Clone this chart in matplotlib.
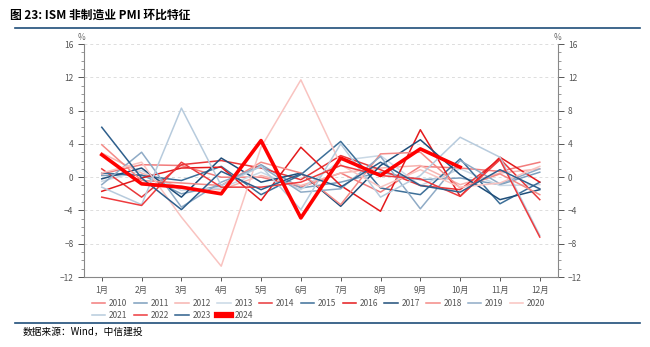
import matplotlib
matplotlib.use("Agg")
import matplotlib.pyplot as plt
import matplotlib.ticker as ticker
from matplotlib.lines import Line2D

plt.rcParams["font.family"] = ["Noto Sans CJK SC", "DejaVu Sans"]

MONTHS = ["1月", "2月", "3月", "4月", "5月", "6月", "7月", "8月", "9月", "10月", "11月", "12月"]

Y2010 = [0.4, 1.5, 1.4, 0.0, 0.0, -1.2, 0.5, -1.8, 1.3, 1.1, 0.7, 1.8]
Y2011 = [0.2, 0.3, -2.0, -1.0, 1.5, -1.3, -0.6, 0.6, -0.3, -0.1, -0.9, 0.6]
Y2012 = [2.9, 0.5, -1.3, -1.5, 0.2, -1.0, 0.5, 1.1, 1.4, -0.9, 0.5, 1.0]
Y2013 = [-0.5, 0.8, -1.6, -1.3, 0.6, -1.5, 2.0, 2.6, -1.0, 1.0, -1.0, -0.9]
Y2014 = [1.0, -2.4, 1.5, 2.0, 1.1, -0.3, 2.6, 0.9, -1.0, -1.5, 2.2, -2.7]
Y2015 = [0.5, 0.2, -0.4, 1.3, -2.1, 0.3, 4.3, -1.3, -2.1, 2.2, -3.2, -0.6]
Y2016 = [-1.7, -0.1, 1.1, 1.2, -2.8, 3.6, -1.0, -4.1, 5.7, -2.3, 2.4, -0.6]
Y2017 = [-0.2, 1.1, -2.4, 2.3, -0.6, 0.5, -3.5, 1.4, 4.5, 0.3, -2.7, -1.5]
Y2018 = [3.9, -0.4, -0.7, -1.0, 1.8, 0.5, -3.3, 2.8, 3.0, -1.3, 0.4, -2.1]
Y2019 = [-0.9, 3.0, -3.6, -0.6, 1.3, -1.8, -1.4, 2.5, -3.8, 2.0, -0.8, 1.0]
Y2020 = [0.5, 1.8, -4.8, -10.7, 3.6, 11.7, 1.5, -1.2, 0.9, -1.2, -0.7, 1.3]
Y2021 = [-1.2, -3.3, 8.3, -1.0, 1.3, -3.9, 4.0, -2.4, 0.2, 4.8, 2.4, -7.0]
Y2022 = [-2.4, -3.4, 1.8, -1.2, -1.2, -0.6, 1.4, 0.2, -0.2, -2.3, 2.1, -7.2]
Y2023 = [6.0, -0.1, -3.9, 0.7, -1.5, 0.4, -1.2, 1.8, -1.0, -1.8, 0.9, -1.4]
Y2024 = [2.7, -0.8, -1.2, -2.0, 4.4, -4.9, 2.3, 0.2, 3.4, 1.2]

SERIES = [
    ("2010", Y2010, "#f27c7c", 1.1),
    ("2011", Y2011, "#7d9fbd", 1.1),
    ("2012", Y2012, "#f7b4b0", 1.1),
    ("2013", Y2013, "#c9d8e5", 1.1),
    ("2014", Y2014, "#e8383a", 1.1),
    ("2015", Y2015, "#3d6f98", 1.1),
    ("2016", Y2016, "#e41a1c", 1.1),
    ("2017", Y2017, "#1f4e79", 1.1),
    ("2018", Y2018, "#f48a86", 1.1),
    ("2019", Y2019, "#8fabc6", 1.1),
    ("2020", Y2020, "#f9c3c0", 1.1),
    ("2021", Y2021, "#b7cbdd", 1.1),
    ("2022", Y2022, "#ee3b3e", 1.1),
    ("2023", Y2023, "#2e5f8c", 1.1),
    ("2024", Y2024, "#ff0000", 2.6),
]

fig = plt.figure(figsize=(6.5, 3.47), dpi=100)
ax = fig.add_axes([0.129, 0.2017, 0.729, 0.6713])

handles = []
for name, vals, color, lw in SERIES:
    x = list(range(len(vals)))
    ax.plot(x, vals, color=color, linewidth=lw, zorder=3 if name == "2024" else 2)
    handles.append(Line2D([0], [0], color=color, linewidth=lw if name != "2024" else 4.5, label=name))

ax.set_xlim(-0.45, 11.45)
ax.set_ylim(-12, 16)
ax.set_xticks(range(12))
ax.set_xticklabels(MONTHS)
ax.yaxis.set_major_locator(ticker.MultipleLocator(4))
ax.yaxis.set_minor_locator(ticker.MultipleLocator(1))
ax.grid(True, axis="y", which="major", linestyle=(0, (3, 3)), color="#dddddd", linewidth=0.7)

ax.spines["top"].set_visible(False)
ax.spines["right"].set_visible(False)
for side in ["left", "bottom"]:
    ax.spines[side].set_color("#888888")
    ax.spines[side].set_linewidth(0.8)

ax.tick_params(axis="both", which="major", labelsize=6, colors="#555555", length=4, width=0.7)
ax.tick_params(axis="y", which="minor", length=2.5, width=0.6, colors="#888888")
ax.tick_params(axis="x", length=3)

ax2 = ax.twinx()
ax2.set_ylim(-12, 16)
ax2.yaxis.set_major_locator(ticker.MultipleLocator(4))
ax2.yaxis.set_minor_locator(ticker.MultipleLocator(1))
for side in ["top", "left", "bottom"]:
    ax2.spines[side].set_visible(False)
ax2.spines["right"].set_color("#888888")
ax2.spines["right"].set_linewidth(0.8)
ax2.tick_params(axis="y", which="major", labelsize=6, colors="#555555", length=4, width=0.7)
ax2.tick_params(axis="y", which="minor", length=2.5, width=0.6, colors="#888888")

fig.text(0.126, 0.893, "%", fontsize=6, color="#666666", ha="center", va="center")
fig.text(0.858, 0.893, "%", fontsize=6, color="#666666", ha="center", va="center")

# legend in row-major order: 11 on first row, 4 on second
order = [0, 11, 1, 12, 2, 13, 3, 14, 4, 5, 6, 7, 8, 9, 10]
fig.legend([handles[i] for i in order], [handles[i].get_label() for i in order],
           loc="upper center", bbox_to_anchor=(0.49, 0.16), ncol=11, frameon=False,
           fontsize=6, handlelength=1.6, handletextpad=0.45, columnspacing=0.75,
           labelspacing=0.35, labelcolor="#555555")

fig.text(0.016, 0.955, "图 23: ISM 非制造业 PMI 环比特征", fontsize=8.5, fontweight="bold",
         color="#000000", va="center")
fig.add_artist(Line2D([0.023, 0.985], [0.92, 0.92], color="#1f4e79", linewidth=1.2))
fig.add_artist(Line2D([0.023, 0.985], [0.07, 0.07], color="#1f4e79", linewidth=1.2))
fig.text(0.035, 0.045, "数据来源：Wind，中信建投", fontsize=7, style="italic", va="center")

fig.savefig("out.png", dpi=100)
